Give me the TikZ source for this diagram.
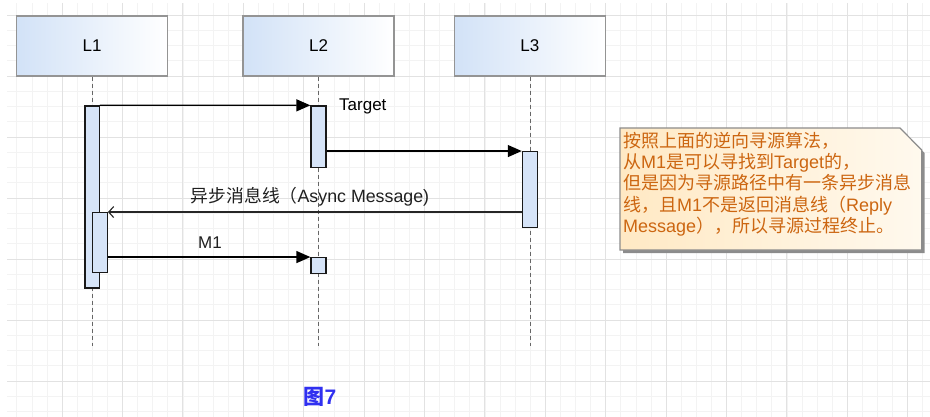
\documentclass[tikz,border=0pt]{standalone}
\usepackage{fontspec}
\setmainfont{Liberation Sans}
\newfontfamily\cjk{Noto Sans CJK SC}
\usetikzlibrary{arrows.meta}
\definecolor{gridmajor}{RGB}{226,226,226}
\definecolor{gridminor}{RGB}{243,243,243}
\definecolor{lifeblue}{RGB}{210,226,247}
\definecolor{actblue}{RGB}{214,228,248}
\definecolor{notetext}{RGB}{204,102,17}
\definecolor{notefillA}{RGB}{255,233,196}
\definecolor{notefillB}{RGB}{255,249,238}
\definecolor{figblue}{RGB}{48,48,240}
\begin{document}
\begin{tikzpicture}[x=1pt,y=-1pt,
 headbox/.style={draw=black!42, line width=1.2pt, left color=lifeblue, right color=white,
   minimum width=151pt, minimum height=60pt, inner sep=0pt, font=\fontsize{17}{20}\selectfont},
 actbox/.style={draw=black!90, line width=1.3pt, fill=actblue, inner sep=0pt, minimum width=15pt},
 lifeline/.style={draw=black!60, line width=0.8pt, dash pattern=on 4pt off 3pt},
 msg/.style={draw=black, line width=1.3pt, -{Triangle[length=14pt,width=12pt]}},
 asyncmsg/.style={draw=black!85, line width=1.2pt, -{Straight Barb[length=5pt,width=11pt,line width=1.1pt]}},
 lbl/.style={font=\fontsize{17}{20}\selectfont, inner sep=0pt, text=black!88},
 gminor/.style={draw=gridminor, line width=0.6pt},
 gmajor/.style={draw=gridmajor, line width=0.9pt}
]
\useasboundingbox (0,0) rectangle (930,417);
% grid
\foreach \i in {1,...,61} {
  \pgfmathsetmacro{\gx}{1.6+15.1*\i}
  \draw[gminor] (\gx,3) -- (\gx,417);
}
\foreach \j in {0,...,26} {
  \pgfmathsetmacro{\gy}{15+15.25*\j}
  \draw[gminor] (7,\gy) -- (930,\gy);
}
\foreach \i in {1,...,15} {
  \pgfmathsetmacro{\gx}{1.6+60.4*\i}
  \draw[gmajor] (\gx,3) -- (\gx,417);
}
\foreach \j in {0,...,6} {
  \pgfmathsetmacro{\gy}{15+61*\j}
  \draw[gmajor] (7,\gy) -- (930,\gy);
}

% lifeline heads
\node[headbox] (L1) at (92.1,46) {L1};
\node[headbox] (L2) at (318.5,46) {L2};
\node[headbox] (L3) at (529.9,46) {L3};

% lifelines
\coordinate (e1) at (92.1,346);
\coordinate (e2) at (318.5,346);
\coordinate (e3) at (529.9,346);
\draw[lifeline] (L1.south) -- (e1);
\draw[lifeline] (L2.south) -- (e2);
\draw[lifeline] (L3.south) -- (e3);

% activations
\node[actbox, minimum width=14.3pt, minimum height=182pt] (a1) at (92.1,197) {};
\node[actbox, minimum height=60pt] (a1b) at (99.8,242.7) {};
\node[actbox, minimum height=61.7pt] (a2) at (318.5,136.85) {};
\node[actbox, minimum height=75.6pt] (a3) at (529.9,189.5) {};
\node[actbox, minimum height=15.6pt] (a2b) at (318.5,265.5) {};

% messages
\draw[msg] (a1.north east) -- (a2.north west);
\draw[msg] (a2.east |- a3.north west) -- (a3.north west);
\draw[asyncmsg] (a3.west |- a1b.north east) -- (a1b.north east);
\draw[msg] (a1b.east |- a2b.north west) -- (a2b.north west);

% labels
\node[lbl, anchor=west, text=black] (tTarget) at (339,106) {Target};
\node[lbl, font=\fontsize{17.8}{20}\selectfont] (tAsync) at (310,197) {{\cjk 异步消息线（}Async Message)};
\node[lbl] (tM1) at (210,243) {M1};

% note
\fill[black!45] (623,131) -- (903,131) -- (924.7,153) -- (924.7,253) -- (623,253) -- cycle;
\draw[black!45, line width=1.2pt, left color=notefillA, right color=notefillB]
  (620,128) -- (900,128) -- (921.7,150) -- (921.7,250) -- (620,250) -- cycle;
\node[anchor=north west, align=left, inner sep=0pt, text=notetext,
  font=\fontsize{18}{21.25}\selectfont] (note) at (623,132)
  {{\cjk 按照上面的逆向寻源算法，}\\
   {\cjk 从}M1{\cjk 是可以寻找到}Target{\cjk 的，}\\
   {\cjk 但是因为寻源路径中有一条异步消息}\\
   {\cjk 线，且}M1{\cjk 不是返回消息线（}Reply\\
   Message{\cjk ），所以寻源过程终止。}};

% caption
\node[inner sep=0pt, text=figblue, font=\fontsize{21}{24}\selectfont\bfseries] (cap) at (320,397)
  {{\cjk 图}7};
\end{tikzpicture}
\end{document}
